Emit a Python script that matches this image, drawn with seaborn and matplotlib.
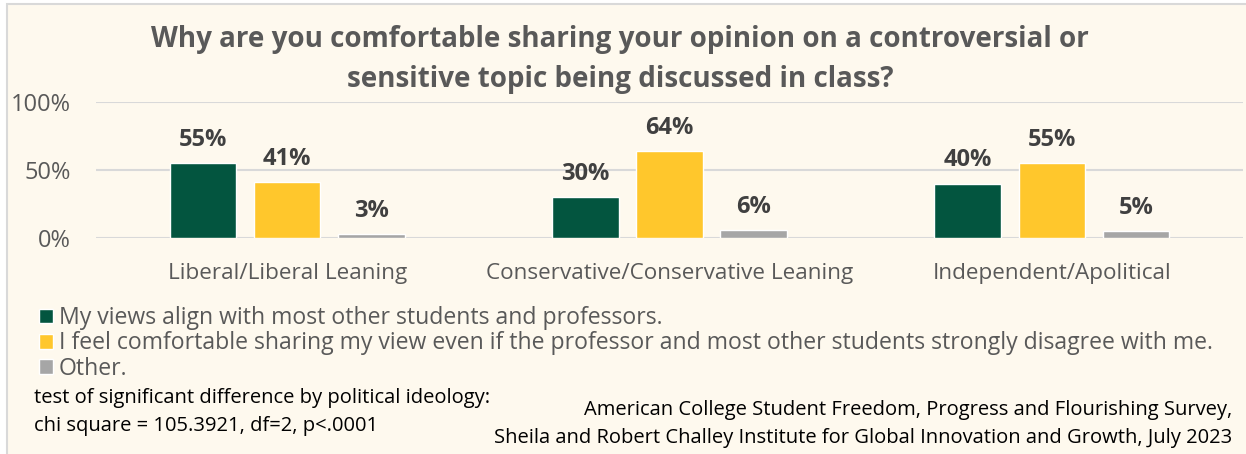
import matplotlib
matplotlib.use("Agg")
import matplotlib.pyplot as plt
import seaborn as sns
import pandas as pd
from matplotlib.patches import Rectangle

categories = ["Liberal/Liberal Leaning", "Conservative/Conservative Leaning", "Independent/Apolitical"]
series_names = [
    "My views align with most other students and professors.",
    "I feel comfortable sharing my view even if the professor and most other students strongly disagree with me.",
    "Other.",
]
series_values = [
    [55, 30, 40],
    [41, 64, 55],
    [3, 6, 5],
]
y_ticks = [0, 50, 100]
y_tick_labels = ["0%", "50%", "100%"]
title = "Why are you comfortable sharing your opinion on a controversial or\nsensitive topic being discussed in class?"
note_left = "test of significant difference by political ideology:\nchi square = 105.3921, df=2, p<.0001"
note_right = ("American College Student Freedom, Progress and Flourishing Survey,\n"
              "Sheila and Robert Challey Institute for Global Innovation and Growth, July 2023")

colors = ["#03553F", "#FFC72C", "#A6A6A6"]
bg = "#FEF9EE"

rows = []
for s, vals in zip(series_names, series_values):
    for c, v in zip(categories, vals):
        rows.append({"category": c, "series": s, "value": v})
df = pd.DataFrame(rows)

sns.set_theme(style="white")
plt.rcParams["font.family"] = ["Open Sans", "DejaVu Sans"]

W, H = 1246, 454
fig = plt.figure(figsize=(W / 100, H / 100), dpi=100)
fig.patch.set_facecolor("white")
# chart panel background with border
bg_ax = fig.add_axes([0, 0, 1, 1], zorder=-5)
bg_ax.set_axis_off()
bg_ax.set_xlim(0, W)
bg_ax.set_ylim(H, 0)
bg_ax.add_patch(Rectangle((7, 4), W + 20, H + 20, facecolor=bg, edgecolor="#D9D9D9", linewidth=1.5))

ax = fig.add_axes([96 / W, 1 - 238 / H, 1147 / W, 136 / H], zorder=2)
ax.set_facecolor("none")

sns.barplot(data=df, x="category", y="value", hue="series", order=categories,
            hue_order=series_names, palette=colors, width=0.66, gap=0.21,
            saturation=1, ax=ax, legend=True)

ax.set_ylim(0, 100)
ax.set_xlim(-0.5, 2.5)
ax.set_yticks(y_ticks)
ax.set_yticklabels(y_tick_labels)
ax.yaxis.grid(True, color="#D9D9D9", linewidth=1.5)
ax.set_axisbelow(True)
for sp in ax.spines.values():
    sp.set_visible(False)
ax.tick_params(axis="y", length=0, pad=18, labelsize=17, labelcolor="#595959")
ax.tick_params(axis="x", length=0, pad=18, labelsize=16.2, labelcolor="#595959")
ax.set_xlabel("")
ax.set_ylabel("")

for cont in ax.containers:
    labels = [f"{v:.0f}%" for v in cont.datavalues]
    ax.bar_label(cont, labels=labels, padding=8, fontsize=17, fontweight="bold", color="#404040")

handles, labels = ax.get_legend_handles_labels()
ax.legend(handles, labels, loc="upper left", bbox_to_anchor=(39 / W, 1 - 306 / H),
          bbox_transform=fig.transFigure, frameon=False, fontsize=16.6,
          labelcolor="#595959", handlelength=0.6, handleheight=0.6,
          handletextpad=0.25, labelspacing=0.06, borderaxespad=0, borderpad=0)

fig.text(620 / W, 1 - 60 / H, title, ha="center", va="center", fontsize=20,
         fontweight="bold", color="#595959", linespacing=1.5)
fig.text(34 / W, 1 - 412 / H, note_left, ha="left", va="center", fontsize=14.5,
         color="#000000", linespacing=1.6)
fig.text(1232 / W, 1 - 424 / H, note_right, ha="right", va="center", fontsize=14.5,
         color="#000000", linespacing=1.53)

fig.savefig("out.png", dpi=100, facecolor=fig.get_facecolor())
